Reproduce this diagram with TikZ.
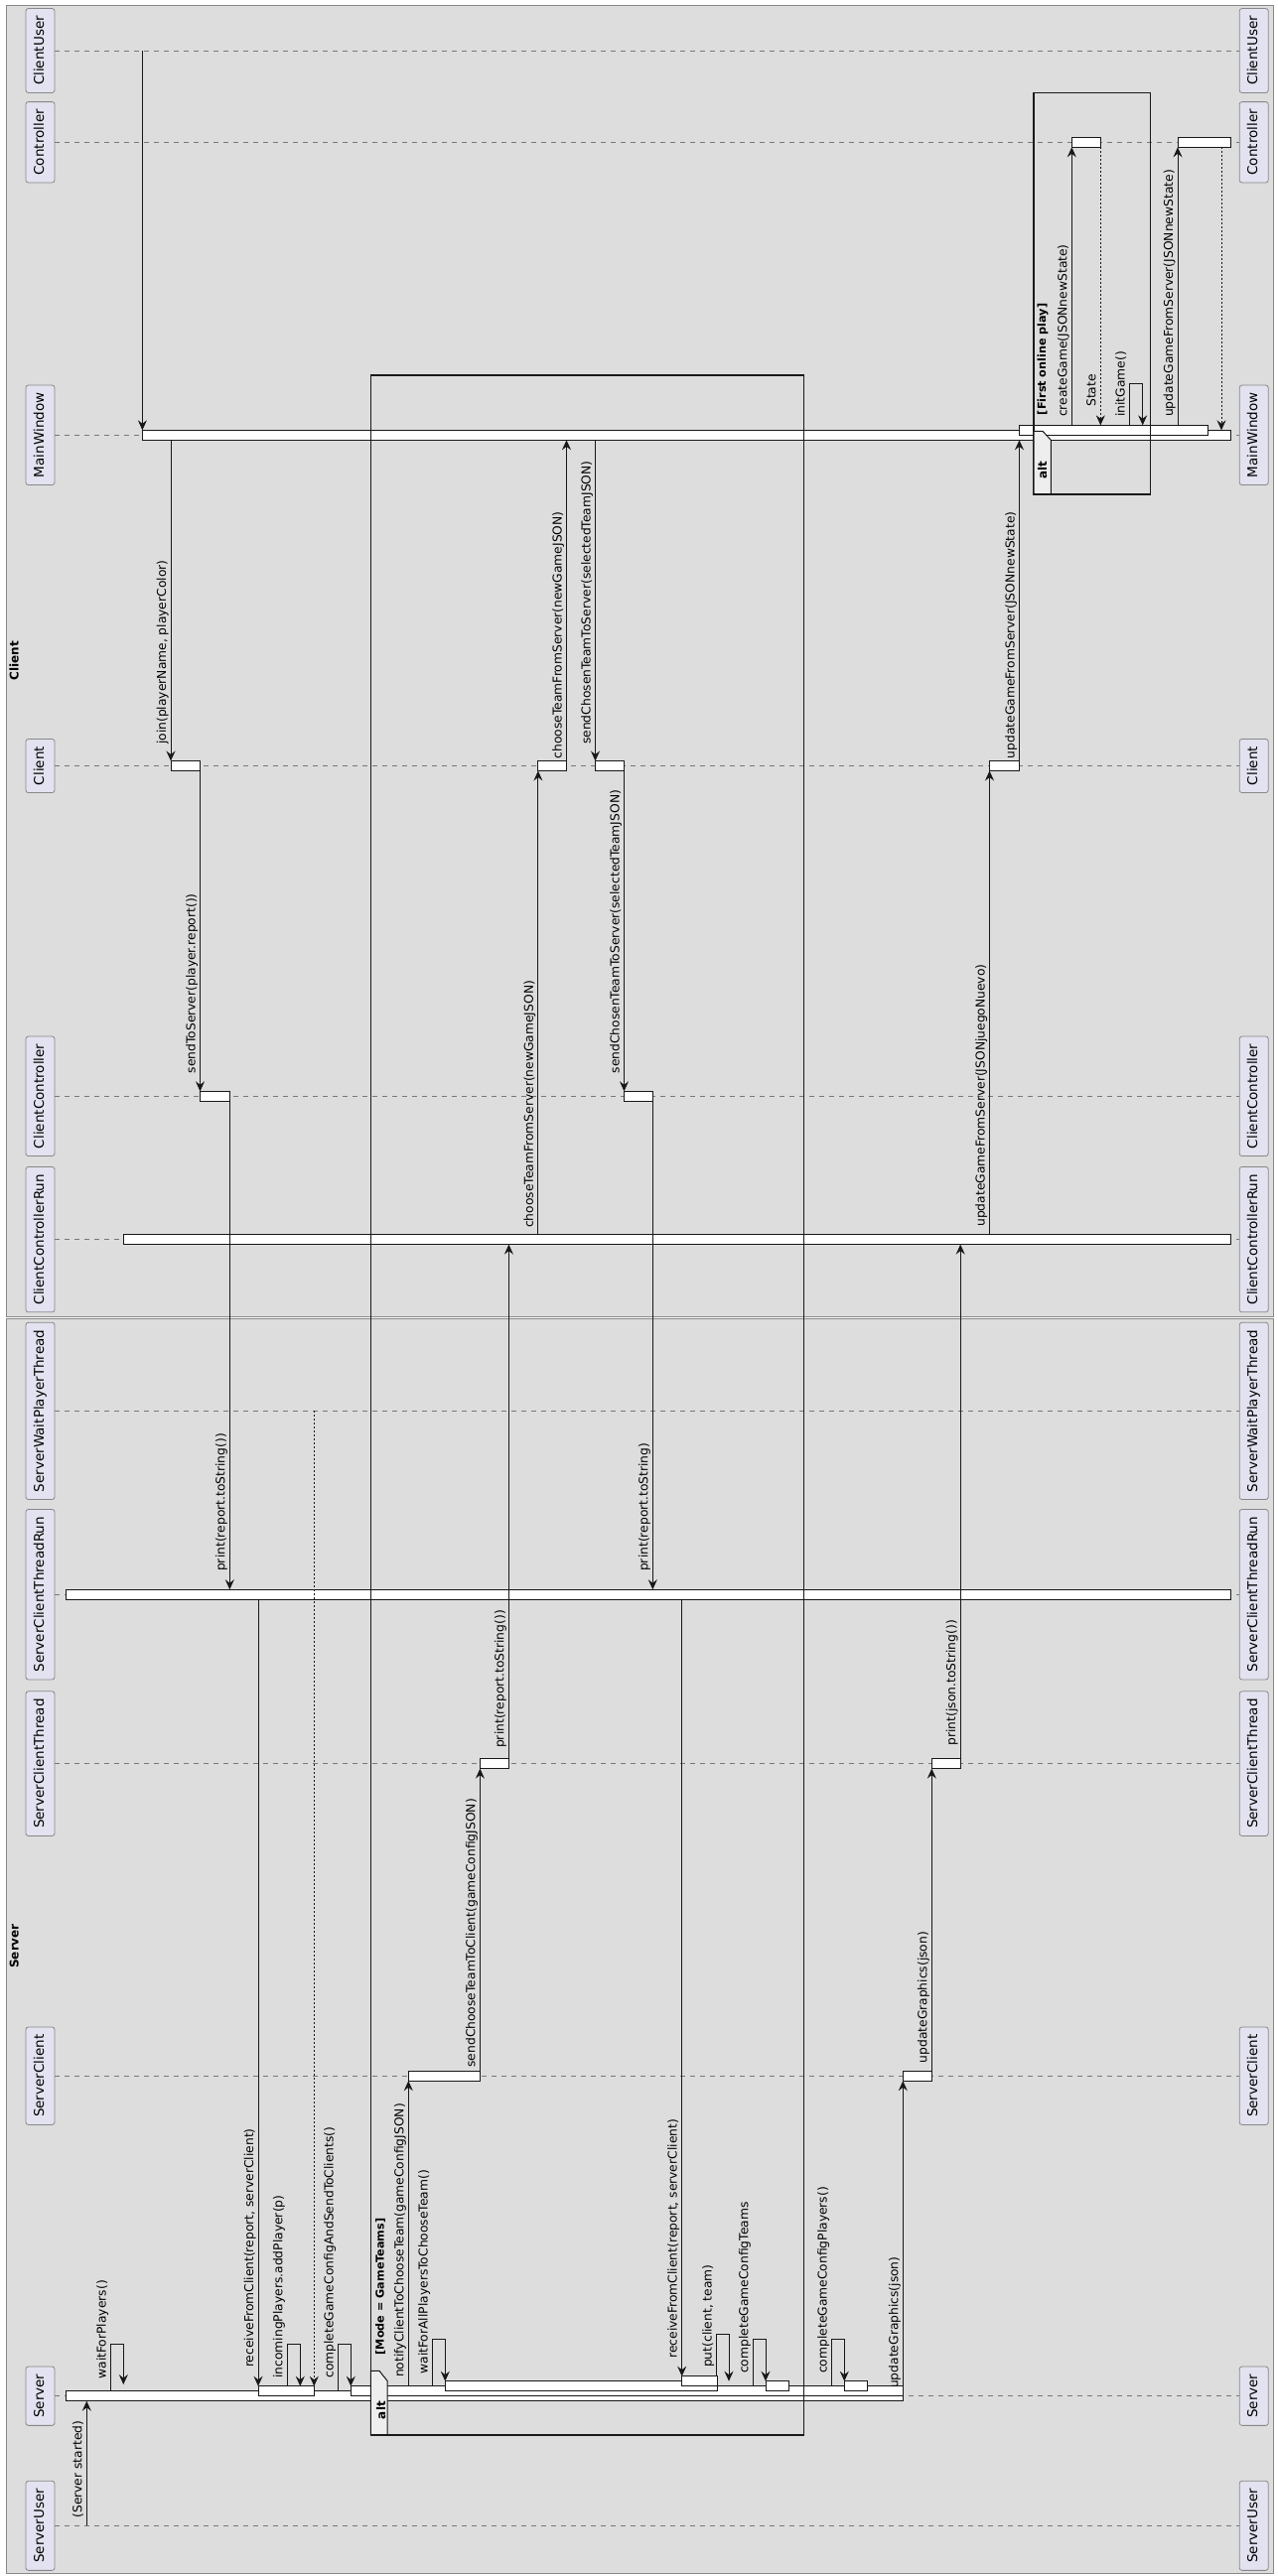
\documentclass[tikz,border=0pt]{standalone}
\usepackage{fontspec}
\setmainfont{DejaVu Sans}
\usetikzlibrary{arrows.meta,calc}
\definecolor{grpbg}{RGB}{221,221,221}
\definecolor{grpline}{RGB}{136,136,136}
\definecolor{partbg}{RGB}{226,226,240}
\definecolor{partline}{RGB}{136,136,136}
\definecolor{lifecol}{RGB}{120,120,120}
\definecolor{ink}{RGB}{24,24,24}
\definecolor{tabbg}{RGB}{238,238,238}
\newcommand\msgfont{\fontsize{12.3}{14}\selectfont}
\newcommand\partfont{\fontsize{13.5}{16}\selectfont}
\newcommand\grdfont{\fontsize{11.2}{13}\selectfont\bfseries}
\newcommand\ttlfont{\fontsize{12}{14}\selectfont\bfseries}
% message: name, x, y-from, y-to, label-bottom, label
\newcommand\msgarrow[6]{%
  \coordinate (#1s) at (#2,#3); \coordinate (#1e) at (#2,#4);
  \draw[msg] (#1s) -- (#1e);
  \node[lbl] (#1l) at (#2-5,#5) {#6};}
\newcommand\retarrow[6]{%
  \coordinate (#1s) at (#2,#3); \coordinate (#1e) at (#2,#4);
  \draw[ret] (#1s) -- (#1e);
  \node[lbl] (#1l) at (#2-5,#5) {#6};}
% self message: name, x1, y-start, y-top, x2, y-tip, label-bottom, label
\newcommand\selfmsg[8]{%
  \coordinate (#1s) at (#2,#3); \coordinate (#1a) at (#2,#4);
  \coordinate (#1b) at (#5,#4); \coordinate (#1e) at (#5,#6);
  \draw[msg] (#1s) -- (#1a) -- (#1b) -- (#1e);
  \node[lbl] (#1l) at (#2-5,#7) {#8};}
\begin{document}
\begin{tikzpicture}[x=1pt,y=-1pt,
  grp/.style={fill=grpbg, draw=grpline, line width=1pt},
  part/.style={rotate=90, draw=partline, fill=partbg, rounded corners=2.5pt,
    minimum height=29pt, inner xsep=7.5pt, inner ysep=0pt, text height=10pt,
    text depth=3pt, font=\partfont, line width=0.8pt},
  life/.style={draw=lifecol, dash pattern=on 5pt off 5pt, line width=0.8pt},
  bar/.style={draw=ink, fill=white, line width=0.9pt},
  msg/.style={draw=ink, line width=0.9pt, -{Stealth[length=10pt,width=9pt,inset=3.5pt]}},
  ret/.style={draw=ink, line width=0.7pt, dash pattern=on 2pt off 2pt,
    -{Stealth[length=10pt,width=9pt,inset=3.5pt,sep=0pt]}},
  lbl/.style={rotate=90, anchor=base west, inner sep=0pt, font=\msgfont},
  frm/.style={draw=black!90, line width=1.6pt},
  tabshape/.style={fill=tabbg, draw=black!90, line width=1pt},
  grd/.style={rotate=90, anchor=base west, inner sep=0pt, font=\grdfont},
  alttxt/.style={rotate=90, anchor=base, inner sep=0pt, font=\ttlfont},
  ttl/.style={rotate=90, anchor=base, inner sep=0pt, font=\ttlfont}]
\useasboundingbox (0,0) rectangle (1287,2595);
\fill[white] (0,0) rectangle (1287,2595);
% groups
\draw[grp] (6,5) rectangle (1282,1326.3);
\draw[grp] (6,1328.4) rectangle (1282,2592.3);
\node[ttl] (tClient) at (18.5,665.7) {Client};
\node[ttl] (tServer) at (18.5,1960.4) {Server};
% participants and lifelines
\foreach \n/\t/\y in {CU/ClientUser/51, CO/Controller/143.3, MW/MainWindow/438.3,
  CL/Client/771.5, CC/ClientController/1104.3, CCR/ClientControllerRun/1248.6,
  SWPT/ServerWaitPlayerThread/1421.4, SCTR/ServerClientThreadRun/1606.2,
  SCT/ServerClientThread/1776.6, SC/ServerClient/2091.2, SV/Server/2413.7,
  SU/ServerUser/2544.3}{
  \node[part] (L\n) at (40.5,\y) {\t};
  \node[part] (R\n) at (1262.7,\y) {\t};
  \draw[life] (L\n.south) -- (R\n.north);
}
% activation bars
\draw[bar] (143.4,433.3) rectangle (1239.5,443.3);
\draw[bar] (1026.7,428.3) rectangle (1216.7,438.3);
\draw[bar] (1079.3,138.3) rectangle (1108.3,148.3);
\draw[bar] (1186,138.3) rectangle (1239.5,148.3);
\draw[bar] (172,766.5) rectangle (201.5,776.5);
\draw[bar] (541.9,766.5) rectangle (570.5,776.5);
\draw[bar] (599.5,766.5) rectangle (628.5,776.5);
\draw[bar] (996.5,766.5) rectangle (1026.5,776.5);
\draw[bar] (201.5,1099.3) rectangle (231.3,1109.3);
\draw[bar] (628.5,1099.3) rectangle (657.3,1109.3);
\draw[bar] (124.4,1243.6) rectangle (1239.5,1253.6);
\draw[bar] (66.3,1601.2) rectangle (1239.5,1611.2);
\draw[bar] (483.4,1771.6) rectangle (512.4,1781.6);
\draw[bar] (938.3,1771.6) rectangle (967.2,1781.6);
\draw[bar] (411.3,2086.2) rectangle (483.4,2096.2);
\draw[bar] (909.3,2086.2) rectangle (938.3,2096.2);
\draw[bar] (66.7,2408.7) rectangle (909.3,2418.7);
\draw[bar] (260,2403.7) rectangle (316.3,2413.7);
\draw[bar] (353.3,2403.7) rectangle (909.3,2413.7);
\draw[bar] (448.3,2398.7) rectangle (722.3,2408.7);
\draw[bar] (771,2398.7) rectangle (794.3,2408.7);
\draw[bar] (850.3,2398.7) rectangle (873.3,2408.7);
\draw[bar] (686.7,2393.7) rectangle (722.3,2403.7);
% messages
\coordinate (m1s) at (143.4,51); \coordinate (m1e) at (143.4,433.3);
\draw[msg] (m1s) -- (m1e);
\msgarrow{m2}{172}{443.3}{766.5}{750}{join(playerName, playerColor)}
\msgarrow{m3}{201.5}{776.5}{1099.3}{1081.5}{sendToServer(player.report())}
\msgarrow{m4}{231.3}{1109.3}{1601.2}{1583}{print(report.toString())}
\msgarrow{m5}{260}{1611.2}{2403.7}{2385}{receiveFromClient(report, serverClient)}
\selfmsg{m6}{289.3}{2403.7}{2361.7}{302.3}{2403.7}{2395.7}{incomingPlayers.addPlayer(p)}
\retarrow{m7}{316.3}{1421.4}{2403.7}{2395}{}
\selfmsg{m8}{340.7}{2408.7}{2361.7}{353.3}{2403.7}{2395.7}{completeGameConfigAndSendToClients()}
\selfmsg{m9}{111.7}{2408.7}{2361.7}{124.3}{2402}{2396.7}{waitForPlayers()}
\msgarrow{m10}{411.3}{2403.7}{2096.2}{2395}{notifyClientToChooseTeam(gameConfigJSON)}
\selfmsg{m11}{435.7}{2403.7}{2356}{448.3}{2398.7}{2391.7}{waitForAllPlayersToChooseTeam()}
\msgarrow{m12}{483.4}{2091.2}{1781.6}{2082.7}{sendChooseTeamToClient(gameConfigJSON)}
\msgarrow{m13}{512.4}{1776.6}{1253.6}{1761}{print(report.toString())}
\msgarrow{m14}{541.9}{1243.6}{776.5}{1237}{chooseTeamFromServer(newGameJSON)}
\msgarrow{m15}{570.5}{771.5}{443.3}{764.4}{chooseTeamFromServer(newGameJSON)}
\msgarrow{m16}{599.5}{443.3}{766.5}{750}{sendChosenTeamToServer(selectedTeamJSON)}
\msgarrow{m17}{628.5}{776.5}{1099.3}{1081.5}{sendChosenTeamToServer(selectedTeamJSON)}
\msgarrow{m18}{657.3}{1109.3}{1601.2}{1583}{print(report.toString)}
\msgarrow{m19}{686.7}{1611.2}{2393.7}{2375.7}{receiveFromClient(report, serverClient)}
\selfmsg{m20}{721.7}{2393.7}{2351.7}{734}{2398.7}{2385}{put(client, team)}
\selfmsg{m21}{758.3}{2403.7}{2356}{771}{2398.7}{2391}{completeGameConfigTeams}
\selfmsg{m22}{837.7}{2403.7}{2356}{850.3}{2398.7}{2391}{completeGameConfigPlayers()}
\msgarrow{m23}{909.3}{2413.7}{2096.2}{2406}{updateGraphics(json)}
\msgarrow{m24}{938.3}{2091.2}{1781.6}{2078.5}{updateGraphics(json)}
\msgarrow{m25}{967.2}{1776.6}{1253.6}{1758.5}{print(json.toString())}
\msgarrow{m26}{996.5}{1243.6}{776.5}{1235.8}{updateGameFromServer(JSONjuegoNuevo)}
\msgarrow{m27}{1026.5}{771.5}{443.3}{764.4}{updateGameFromServer(JSONnewState)}
\msgarrow{m28}{1079.3}{428.3}{148.3}{420}{createGame(JSONnewState)}
\retarrow{m29}{1108.3}{148.3}{428.3}{410}{State}
\selfmsg{m30}{1137.7}{428.3}{386.7}{1150.7}{428.3}{420}{initGame()}
\msgarrow{m31}{1186}{428.3}{148.3}{420}{updateGameFromServer(JSONnewState)}
\retarrow{m32}{1230}{148.3}{433.3}{425}{}
\msgarrow{m33}{87.3}{2544.3}{2418.7}{2536.7}{(Server started)}
% alt frame: Mode = GameTeams
\draw[frm] (373.3,378) rectangle (809.3,2452.7);
\draw[tabshape] (373.3,2452.7) -- (373.3,2388.3) -- (382,2388.3) -- (390,2398.3) -- (390,2452.7) -- cycle;
\node[alttxt] (altA) at (388,2428) {alt};
\node[grd] (gMode) at (386.5,2372.3) {[Mode = GameTeams]};
% alt frame: First online play
\draw[frm] (1041,93.3) rectangle (1158.3,497.7);
\draw[tabshape] (1041,497.7) -- (1041,434.3) -- (1050,434.3) -- (1058.3,443.3) -- (1058.3,497.7) -- cycle;
\node[alttxt] (altB) at (1054,473.3) {alt};
\node[grd] (gFirst) at (1053,418.3) {[First online play]};
\end{tikzpicture}
\end{document}
